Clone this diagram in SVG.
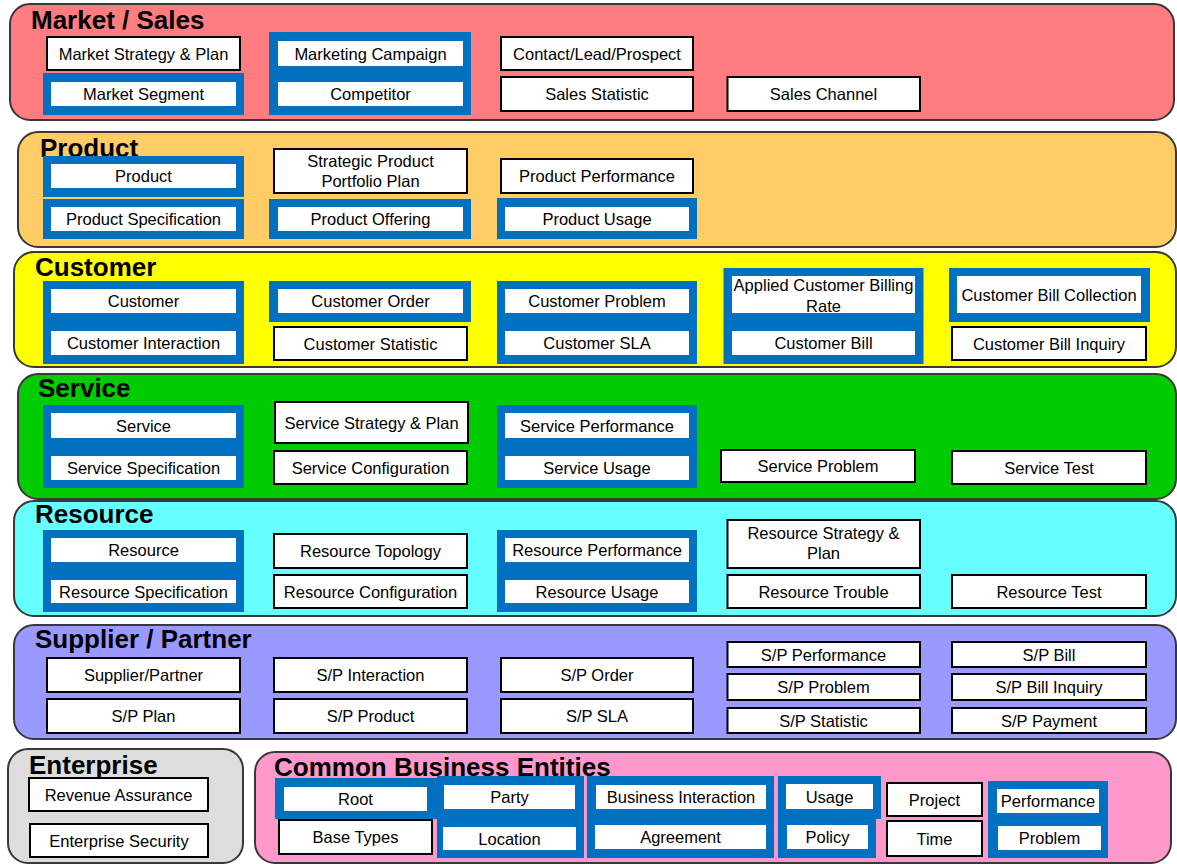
<svg xmlns="http://www.w3.org/2000/svg" width="1177" height="864" viewBox="0 0 1177 864">
<style>
.layer{stroke:#383838;stroke-width:2}
.wb{fill:#fff;stroke:#000;stroke-width:2}
.blue{fill:#0070C0}
.in{fill:#fff}
.t{font-family:"Liberation Sans",Arial,sans-serif;font-size:16.5px;text-anchor:middle;fill:#000}
.h{font-family:"Liberation Sans",Arial,sans-serif;font-size:26px;font-weight:bold;fill:#000}
</style>
<rect width="1177" height="864" fill="#fff"/>

<!-- Market / Sales -->
<g id="layer-market">
<rect class="layer" x="10" y="4" width="1164" height="116" rx="20" fill="#FF7C80"/>
<text class="h" x="31" y="29">Market / Sales</text>
</g>
<g id="n-market-strategy"><rect class="wb" x="47" y="37" width="193" height="33"/><text class="t" x="143.5" y="59.5">Market Strategy &amp; Plan</text></g>
<g id="n-market-segment"><rect class="blue" x="43" y="73" width="201" height="42"/><rect class="in" x="51" y="82" width="185" height="24"/><text class="t" x="143.5" y="100">Market Segment</text></g>
<g id="n-campaign"><rect class="blue" x="269" y="32" width="202" height="83"/><rect class="in" x="278" y="41" width="185" height="25"/><text class="t" x="370.5" y="59.5">Marketing Campaign</text><rect class="in" x="278" y="82" width="185" height="24"/><text class="t" x="370.5" y="100">Competitor</text></g>
<g id="n-contact"><rect class="wb" x="501" y="37" width="192" height="33"/><text class="t" x="597" y="59.5">Contact/Lead/Prospect</text></g>
<g id="n-sales-statistic"><rect class="wb" x="501" y="77" width="192" height="34"/><text class="t" x="597" y="100">Sales Statistic</text></g>
<g id="n-sales-channel"><rect class="wb" x="727.5" y="77" width="192.5" height="34"/><text class="t" x="823.5" y="100">Sales Channel</text></g>

<!-- Product -->
<g id="layer-product">
<rect class="layer" x="18" y="132" width="1158" height="115" rx="20" fill="#FFCC66"/>
<text class="h" x="40" y="157">Product</text>
</g>
<g id="n-product"><rect class="blue" x="43" y="156" width="201" height="41"/><rect class="in" x="51" y="164" width="185" height="24"/><text class="t" x="143.5" y="182">Product</text></g>
<g id="n-product-spec"><rect class="blue" x="43" y="199" width="201" height="40"/><rect class="in" x="51" y="207" width="185" height="24"/><text class="t" x="143.5" y="225">Product Specification</text></g>
<g id="n-strategic-portfolio"><rect class="wb" x="274" y="149" width="193" height="44"/><text class="t" x="370.5" y="166.5">Strategic Product</text><text class="t" x="370.5" y="187">Portfolio Plan</text></g>
<g id="n-product-offering"><rect class="blue" x="269" y="199" width="202" height="40"/><rect class="in" x="278" y="207" width="185" height="24"/><text class="t" x="370.5" y="225">Product Offering</text></g>
<g id="n-product-performance"><rect class="wb" x="501" y="159" width="192" height="34"/><text class="t" x="597" y="182">Product Performance</text></g>
<g id="n-product-usage"><rect class="blue" x="497" y="198" width="200" height="41"/><rect class="in" x="505" y="207" width="184" height="24"/><text class="t" x="597" y="225">Product Usage</text></g>

<!-- Customer -->
<g id="layer-customer">
<rect class="layer" x="14" y="252" width="1162" height="115" rx="20" fill="#FFFF00"/>
<text class="h" x="35" y="276">Customer</text>
</g>
<g id="n-customer"><rect class="blue" x="43" y="281" width="201" height="83"/><rect class="in" x="51" y="289" width="185" height="24"/><text class="t" x="143.5" y="307">Customer</text><rect class="in" x="51" y="331" width="185" height="24"/><text class="t" x="143.5" y="349">Customer Interaction</text></g>
<g id="n-customer-order"><rect class="blue" x="269" y="281" width="202" height="41"/><rect class="in" x="278" y="289" width="185" height="24"/><text class="t" x="370.5" y="307">Customer Order</text></g>
<g id="n-customer-statistic"><rect class="wb" x="274" y="327" width="193" height="33"/><text class="t" x="370.5" y="349.5">Customer Statistic</text></g>
<g id="n-customer-problem"><rect class="blue" x="497" y="281" width="200" height="83"/><rect class="in" x="505" y="289" width="184" height="24"/><text class="t" x="597" y="307">Customer Problem</text><rect class="in" x="505" y="331" width="184" height="24"/><text class="t" x="597" y="349">Customer SLA</text></g>
<g id="n-customer-bill"><rect class="blue" x="723.5" y="268" width="200" height="96"/><rect class="in" x="732" y="276" width="183" height="37"/><text class="t" x="823.5" y="291">Applied Customer Billing</text><text class="t" x="823.5" y="311.5">Rate</text><rect class="in" x="732" y="331" width="183" height="24"/><text class="t" x="823.5" y="349">Customer Bill</text></g>
<g id="n-bill-collection"><rect class="blue" x="949" y="268" width="201" height="54"/><rect class="in" x="957" y="276" width="184" height="37"/><text class="t" x="1049" y="300.5">Customer Bill Collection</text></g>
<g id="n-bill-inquiry"><rect class="wb" x="952" y="327" width="194" height="33"/><text class="t" x="1049" y="349.5">Customer Bill Inquiry</text></g>

<!-- Service -->
<g id="layer-service">
<rect class="layer" x="18" y="374" width="1158" height="125" rx="20" fill="#00CC00"/>
<text class="h" x="38" y="397">Service</text>
</g>
<g id="n-service"><rect class="blue" x="43" y="405" width="201" height="83"/><rect class="in" x="51" y="413" width="185" height="25"/><text class="t" x="143.5" y="431.5">Service</text><rect class="in" x="51" y="456" width="185" height="24"/><text class="t" x="143.5" y="474">Service Specification</text></g>
<g id="n-service-strategy"><rect class="wb" x="275" y="402" width="193" height="41"/><text class="t" x="371.5" y="428.5">Service Strategy &amp; Plan</text></g>
<g id="n-service-config"><rect class="wb" x="274" y="451" width="193" height="33"/><text class="t" x="370.5" y="473.5">Service Configuration</text></g>
<g id="n-service-performance"><rect class="blue" x="497" y="405" width="200" height="83"/><rect class="in" x="505" y="413" width="184" height="25"/><text class="t" x="597" y="431.5">Service Performance</text><rect class="in" x="505" y="456" width="184" height="24"/><text class="t" x="597" y="474">Service Usage</text></g>
<g id="n-service-problem"><rect class="wb" x="721" y="450" width="194" height="32"/><text class="t" x="818" y="472">Service Problem</text></g>
<g id="n-service-test"><rect class="wb" x="952" y="451" width="194" height="33"/><text class="t" x="1049" y="473.5">Service Test</text></g>

<!-- Resource -->
<g id="layer-resource">
<rect class="layer" x="14" y="501" width="1162" height="115" rx="20" fill="#66FFFF"/>
<text class="h" x="35" y="523">Resource</text>
</g>
<g id="n-resource"><rect class="blue" x="43" y="530" width="201" height="82"/><rect class="in" x="51" y="538" width="185" height="24"/><text class="t" x="143.5" y="556">Resource</text><rect class="in" x="51" y="580" width="185" height="23"/><text class="t" x="143.5" y="597.5">Resource Specification</text></g>
<g id="n-resource-topology"><rect class="wb" x="274" y="534" width="193" height="34"/><text class="t" x="370.5" y="557">Resource Topology</text></g>
<g id="n-resource-config"><rect class="wb" x="274" y="575" width="193" height="33"/><text class="t" x="370.5" y="597.5">Resource Configuration</text></g>
<g id="n-resource-performance"><rect class="blue" x="497" y="530" width="200" height="82"/><rect class="in" x="505" y="538" width="184" height="24"/><text class="t" x="597" y="556">Resource Performance</text><rect class="in" x="505" y="580" width="184" height="23"/><text class="t" x="597" y="597.5">Resource Usage</text></g>
<g id="n-resource-strategy"><rect class="wb" x="727.5" y="520" width="192.5" height="48"/><text class="t" x="823.5" y="538.5">Resource Strategy &amp;</text><text class="t" x="823.5" y="559">Plan</text></g>
<g id="n-resource-trouble"><rect class="wb" x="727.5" y="575" width="192.5" height="33"/><text class="t" x="823.5" y="597.5">Resource Trouble</text></g>
<g id="n-resource-test"><rect class="wb" x="952" y="575" width="194" height="33"/><text class="t" x="1049" y="597.5">Resource Test</text></g>

<!-- Supplier / Partner -->
<g id="layer-sp">
<rect class="layer" x="14" y="625" width="1162" height="114" rx="20" fill="#9999FF"/>
<text class="h" x="35" y="648">Supplier / Partner</text>
</g>
<g id="n-supplier-partner"><rect class="wb" x="47" y="658" width="193" height="34"/><text class="t" x="143.5" y="681">Supplier/Partner</text></g>
<g id="n-sp-plan"><rect class="wb" x="47" y="699" width="193" height="34"/><text class="t" x="143.5" y="722">S/P Plan</text></g>
<g id="n-sp-interaction"><rect class="wb" x="274" y="658" width="193" height="34"/><text class="t" x="370.5" y="681">S/P Interaction</text></g>
<g id="n-sp-product"><rect class="wb" x="274" y="699" width="193" height="34"/><text class="t" x="370.5" y="722">S/P Product</text></g>
<g id="n-sp-order"><rect class="wb" x="501" y="658" width="192" height="34"/><text class="t" x="597" y="681">S/P Order</text></g>
<g id="n-sp-sla"><rect class="wb" x="501" y="699" width="192" height="34"/><text class="t" x="597" y="722">S/P SLA</text></g>
<g id="n-sp-performance"><rect class="wb" x="727.5" y="642" width="192.5" height="25"/><text class="t" x="823.5" y="660.5">S/P Performance</text></g>
<g id="n-sp-problem"><rect class="wb" x="727.5" y="674" width="192.5" height="26"/><text class="t" x="823.5" y="693">S/P Problem</text></g>
<g id="n-sp-statistic"><rect class="wb" x="727.5" y="708" width="192.5" height="25"/><text class="t" x="823.5" y="726.5">S/P Statistic</text></g>
<g id="n-sp-bill"><rect class="wb" x="952" y="642" width="194" height="25"/><text class="t" x="1049" y="660.5">S/P Bill</text></g>
<g id="n-sp-bill-inquiry"><rect class="wb" x="952" y="674" width="194" height="26"/><text class="t" x="1049" y="693">S/P Bill Inquiry</text></g>
<g id="n-sp-payment"><rect class="wb" x="952" y="708" width="194" height="25"/><text class="t" x="1049" y="726.5">S/P Payment</text></g>

<!-- Enterprise -->
<g id="layer-enterprise">
<rect class="layer" x="8" y="749" width="235" height="114" rx="20" fill="#DDDDDD"/>
<text class="h" x="29" y="774">Enterprise</text>
</g>
<g id="n-revenue-assurance"><rect class="wb" x="29" y="778" width="179" height="33"/><text class="t" x="118.5" y="800.5">Revenue Assurance</text></g>
<g id="n-enterprise-security"><rect class="wb" x="30" y="824" width="178" height="33"/><text class="t" x="119" y="846.5">Enterprise Security</text></g>

<!-- Common Business Entities -->
<g id="layer-cbe">
<rect class="layer" x="255" y="752" width="916" height="111" rx="20" fill="#FF99CC"/>
<text class="h" x="274" y="776">Common Business Entities</text>
</g>
<g id="n-root"><rect class="blue" x="275" y="778" width="162" height="41"/><rect class="in" x="284" y="787" width="143" height="24"/><text class="t" x="355.5" y="805">Root</text></g>
<g id="n-base-types"><rect class="wb" x="279" y="820" width="153" height="34"/><text class="t" x="355.5" y="843">Base Types</text></g>
<g id="n-party"><rect class="blue" x="437" y="776" width="147" height="82"/><rect class="in" x="444" y="785" width="131" height="24"/><text class="t" x="509.5" y="803">Party</text><rect class="in" x="443" y="827" width="133" height="23"/><text class="t" x="509.5" y="844.5">Location</text></g>
<g id="n-business-interaction"><rect class="blue" x="587" y="776" width="187" height="82"/><rect class="in" x="596" y="785" width="170" height="24"/><text class="t" x="681" y="803">Business Interaction</text><rect class="in" x="595" y="825" width="171" height="24"/><text class="t" x="680.5" y="843">Agreement</text></g>
<g id="n-usage"><path class="blue" d="M778,776 H881 V819 H876 V858 H778 Z"/><rect class="in" x="786" y="784" width="87" height="25"/><text class="t" x="829.5" y="802.5">Usage</text><rect class="in" x="787" y="825" width="81" height="24"/><text class="t" x="827.5" y="843">Policy</text></g>
<g id="n-project"><rect class="wb" x="887" y="783" width="95" height="33"/><text class="t" x="934.5" y="805.5">Project</text></g>
<g id="n-time"><rect class="wb" x="887" y="821" width="95" height="35"/><text class="t" x="934.5" y="844.5">Time</text></g>
<g id="n-performance"><rect class="blue" x="988" y="781" width="120" height="77"/><rect class="in" x="997" y="789" width="102" height="24"/><text class="t" x="1048" y="807">Performance</text><rect class="in" x="998" y="826" width="103" height="24"/><text class="t" x="1049.5" y="844">Problem</text></g>

<g id="connectors"/>
</svg>
